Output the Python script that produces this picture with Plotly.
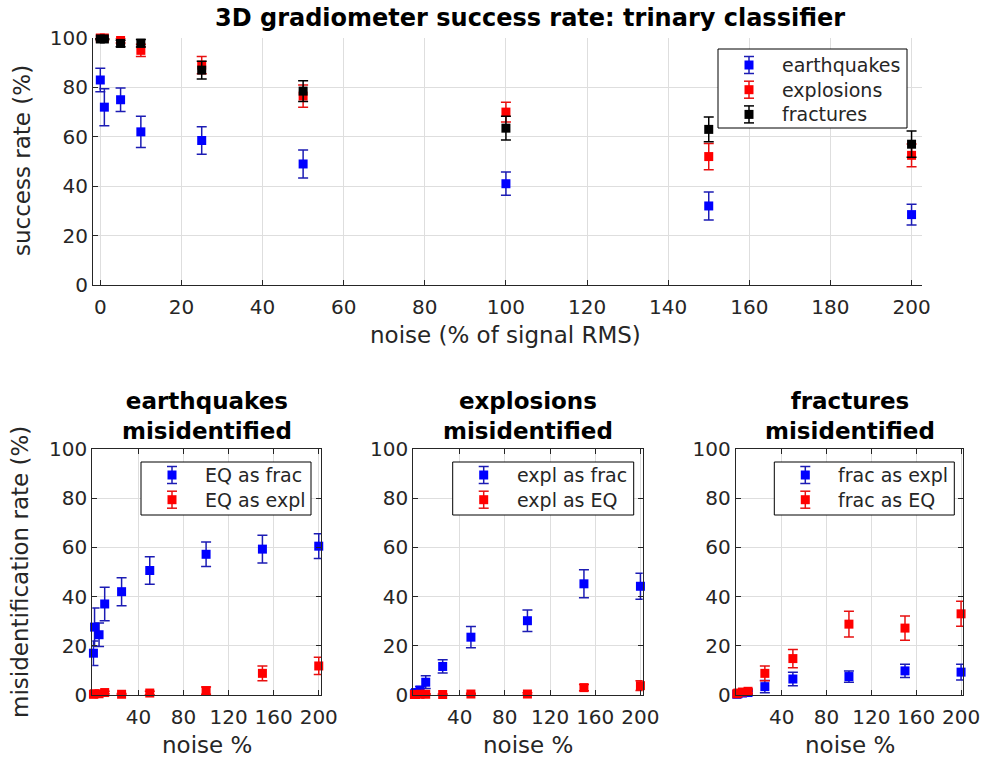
import plotly.graph_objects as go

# Noise levels (% of signal RMS) shared by every panel
noise = [0, 1, 5, 10, 25, 50, 100, 150, 200]

# Success rate of the trinary classifier (%), with error half-widths
eq_rate = [83, 72, 75, 62, 58.5, 49, 41, 32, 28.5]
eq_rate_err = [4.8, 7.5, 4.8, 6.3, 5.6, 5.7, 4.7, 5.7, 4.2]
expl_rate = [100, 100, 99, 95, 89, 76.5, 70, 52, 52.5]
expl_rate_err = [0.3, 0.5, 1.0, 2.5, 3.5, 4.5, 4.0, 5.3, 4.6]
frac_rate = [99.6, 99.6, 97.8, 97.9, 87, 78.5, 63.5, 63, 57]
frac_rate_err = [0.3, 0.3, 1.3, 1.5, 3.6, 4.2, 4.8, 5.0, 5.3]

# Misidentification rates (%) per true class
eq_as_frac = [17, 27.6, 24.5, 37, 42, 50.6, 57.2, 59.3, 60.5]
eq_as_frac_err = [5, 7.8, 4.8, 6.8, 5.7, 5.6, 5, 5.6, 5]
eq_as_expl = [0.3, 0.5, 0.5, 1.0, 0.3, 0.8, 1.8, 8.8, 11.8]
eq_as_expl_err = [0.3, 0.3, 0.3, 0.5, 0.3, 0.7, 1.5, 3, 3.5]

expl_as_frac = [0.5, 1, 2, 5.2, 11.6, 23.5, 30.2, 45.2, 44.2]
expl_as_frac_err = [0.5, 0.8, 1.5, 2.6, 2.7, 4.3, 4.4, 5.7, 5.3]
expl_as_eq = [0.2, 0.2, 0.3, 0.3, 0.2, 0.4, 0.4, 3.0, 3.8]
expl_as_eq_err = [0.2, 0.2, 0.2, 0.2, 0.2, 0.3, 0.5, 1.3, 2.0]

frac_as_expl = [0.3, 0.5, 0.8, 1.0, 3.4, 6.5, 7.5, 9.8, 9.3]
frac_as_expl_err = [0.3, 0.4, 0.5, 0.6, 2.5, 2.7, 2.3, 2.7, 3.2]
frac_as_eq = [0.5, 0.8, 1.2, 1.5, 8.8, 14.8, 28.8, 27.2, 33]
frac_as_eq_err = [0.4, 0.5, 0.6, 0.8, 3, 3.7, 5.2, 4.9, 5.1]

top_ticks = [0, 20, 40, 60, 80, 100, 120, 140, 160, 180, 200]
bottom_xticks = [40, 80, 120, 160, 200]
yticks = [0, 20, 40, 60, 80, 100]

BLUE, RED, BLACK = "#0000ff", "#ff0000", "#000000"
# error-bar strokes are drawn a touch darker than the markers
BAR = {BLUE: "#1c1cb4", RED: "#e81010", BLACK: "#000000"}
FONT = "DejaVu Sans"
INK = "#262626"
W, H = 984, 759


def px_x(p):
    return p / W


def px_y(p):
    return 1 - p / H


def series(x, y, err, color, name, xa, ya):
    return go.Scatter(
        x=x, y=y, name=name, mode="markers", showlegend=False,
        marker=dict(symbol="square", size=9, color=color),
        error_y=dict(type="data", array=err, visible=True,
                     color=BAR[color], thickness=1.5, width=5),
        xaxis=xa, yaxis=ya, cliponaxis=False,
    )


fig = go.Figure()

panels = [
    ("x", "y", [("earthquakes", eq_rate, eq_rate_err, BLUE),
                ("explosions", expl_rate, expl_rate_err, RED),
                ("fractures", frac_rate, frac_rate_err, BLACK)]),
    ("x2", "y2", [("EQ as frac", eq_as_frac, eq_as_frac_err, BLUE),
                  ("EQ as expl", eq_as_expl, eq_as_expl_err, RED)]),
    ("x3", "y3", [("expl as frac", expl_as_frac, expl_as_frac_err, BLUE),
                  ("expl as EQ", expl_as_eq, expl_as_eq_err, RED)]),
    ("x4", "y4", [("frac as expl", frac_as_expl, frac_as_expl_err, BLUE),
                  ("frac as EQ", frac_as_eq, frac_as_eq_err, RED)]),
]
for xa, ya, entries in panels:
    for name, vals, errs, color in entries:
        fig.add_trace(series(noise, vals, errs, color, name, xa, ya))

axis_common = dict(
    showline=True, linecolor=INK, linewidth=1,
    ticks="inside", ticklen=5, tickcolor=INK,
    showgrid=True, gridcolor="#dedede", gridwidth=1,
    zeroline=False, tickfont=dict(family=FONT, size=20, color=INK),
    automargin=False,
)

# panel geometry in pixels: (left, right, top, bottom)
top_box = (93, 921.7, 38, 285)
bottom_boxes = [(92.3, 321, 449, 695), (413.3, 642.7, 449, 695), (735.7, 963.3, 449, 695)]

layout = dict(
    width=W, height=H, autosize=False, showlegend=False,
    margin=dict(l=0, r=0, t=0, b=0, pad=0, autoexpand=False),
    paper_bgcolor="white", plot_bgcolor="white",
    font=dict(family=FONT, color=INK),
    xaxis=dict(axis_common, domain=[px_x(top_box[0]), px_x(top_box[1])],
               range=[-1.8, 202.5], tickvals=top_ticks, anchor="y", ticklabelstandoff=4),
    yaxis=dict(axis_common, domain=[px_y(top_box[3]), px_y(top_box[2])],
               range=[0, 100], tickvals=yticks, anchor="x"),
)

for i, (l, r, t, b) in enumerate(bottom_boxes, start=2):
    layout[f"xaxis{i}"] = dict(axis_common, domain=[px_x(l), px_x(r)], range=[-1, 202],
                               tickvals=bottom_xticks, anchor=f"y{i}", mirror="ticks",
                               ticklabelstandoff=4)
    layout[f"yaxis{i}"] = dict(axis_common, domain=[px_y(b), px_y(t)], range=[0, 100],
                               tickvals=yticks, anchor=f"x{i}", mirror="ticks")

annotations = [
    dict(text="<b>3D gradiometer success rate: trinary classifier</b>", x=px_x(530), y=px_y(18),
         font=dict(size=24, color=BLACK)),
    dict(text="success rate (%)", x=px_x(22), y=px_y(161), textangle=-90, font=dict(size=23)),
    dict(text="noise (% of signal RMS)", x=px_x(505), y=px_y(335), font=dict(size=23)),
    dict(text="misidentification rate (%)", x=px_x(20), y=px_y(572), textangle=-90,
         font=dict(size=23)),
]
panel_titles = ["earthquakes", "explosions", "fractures"]
for (l, r, t, b), name in zip(bottom_boxes, panel_titles):
    cx = (l + r) / 2
    annotations.append(dict(text=f"<b>{name}<br>misidentified</b>", x=px_x(cx), y=px_y(416),
                            font=dict(size=23, color=BLACK)))
    annotations.append(dict(text="noise %", x=px_x(cx), y=px_y(745), font=dict(size=23)))

for a in annotations:
    a.update(xref="paper", yref="paper", showarrow=False, xanchor="center", yanchor="middle")
    a["font"] = dict(family=FONT, color=a["font"].get("color", INK), size=a["font"]["size"])

# Boxed legends with marker + error-bar icons, one per panel.
# (left, top, width, height) of each legend frame in pixels
legend_frames = [(718, 49, 189, 79), (141, 462, 170, 53), (452.7, 462, 181, 53), (774.3, 462, 180, 53)]
ROW_GAP, FIRST_ROW, ICON_DX, TEXT_DX = 24.7, 16, 31, 62
shapes = []
for (bl, bt, bw, bh), (_, _, entries) in zip(legend_frames, panels):
    shapes.append(dict(type="rect", xref="paper", yref="paper", layer="above",
                       x0=px_x(bl), x1=px_x(bl + bw), y0=px_y(bt + bh), y1=px_y(bt),
                       line=dict(color=BLACK, width=1), fillcolor="white"))
    for k, (name, _, _, color) in enumerate(entries):
        cy = bt + FIRST_ROW + k * ROW_GAP - (3 if len(entries) == 2 else 0)
        ix = bl + ICON_DX
        bar = dict(color=BAR[color], width=1.5)
        shapes.append(dict(type="line", xref="paper", yref="paper", layer="above",
                           x0=px_x(ix), x1=px_x(ix), y0=px_y(cy - 8.5), y1=px_y(cy + 8.5), line=bar))
        for dy in (-8.5, 8.5):
            shapes.append(dict(type="line", xref="paper", yref="paper", layer="above",
                               x0=px_x(ix - 5), x1=px_x(ix + 5), y0=px_y(cy + dy), y1=px_y(cy + dy),
                               line=bar))
        shapes.append(dict(type="rect", xref="paper", yref="paper", layer="above",
                           x0=px_x(ix - 4.5), x1=px_x(ix + 4.5), y0=px_y(cy + 4.5), y1=px_y(cy - 4.5),
                           line=dict(width=0), fillcolor=color))
        annotations.append(dict(text=name, x=px_x(bl + TEXT_DX), y=px_y(cy), xref="paper", yref="paper",
                                showarrow=False, xanchor="left", yanchor="middle",
                                font=dict(family=FONT, size=19, color=INK)))

layout["annotations"] = annotations
layout["shapes"] = shapes
fig.update_layout(layout)

fig.write_html("out.html")
